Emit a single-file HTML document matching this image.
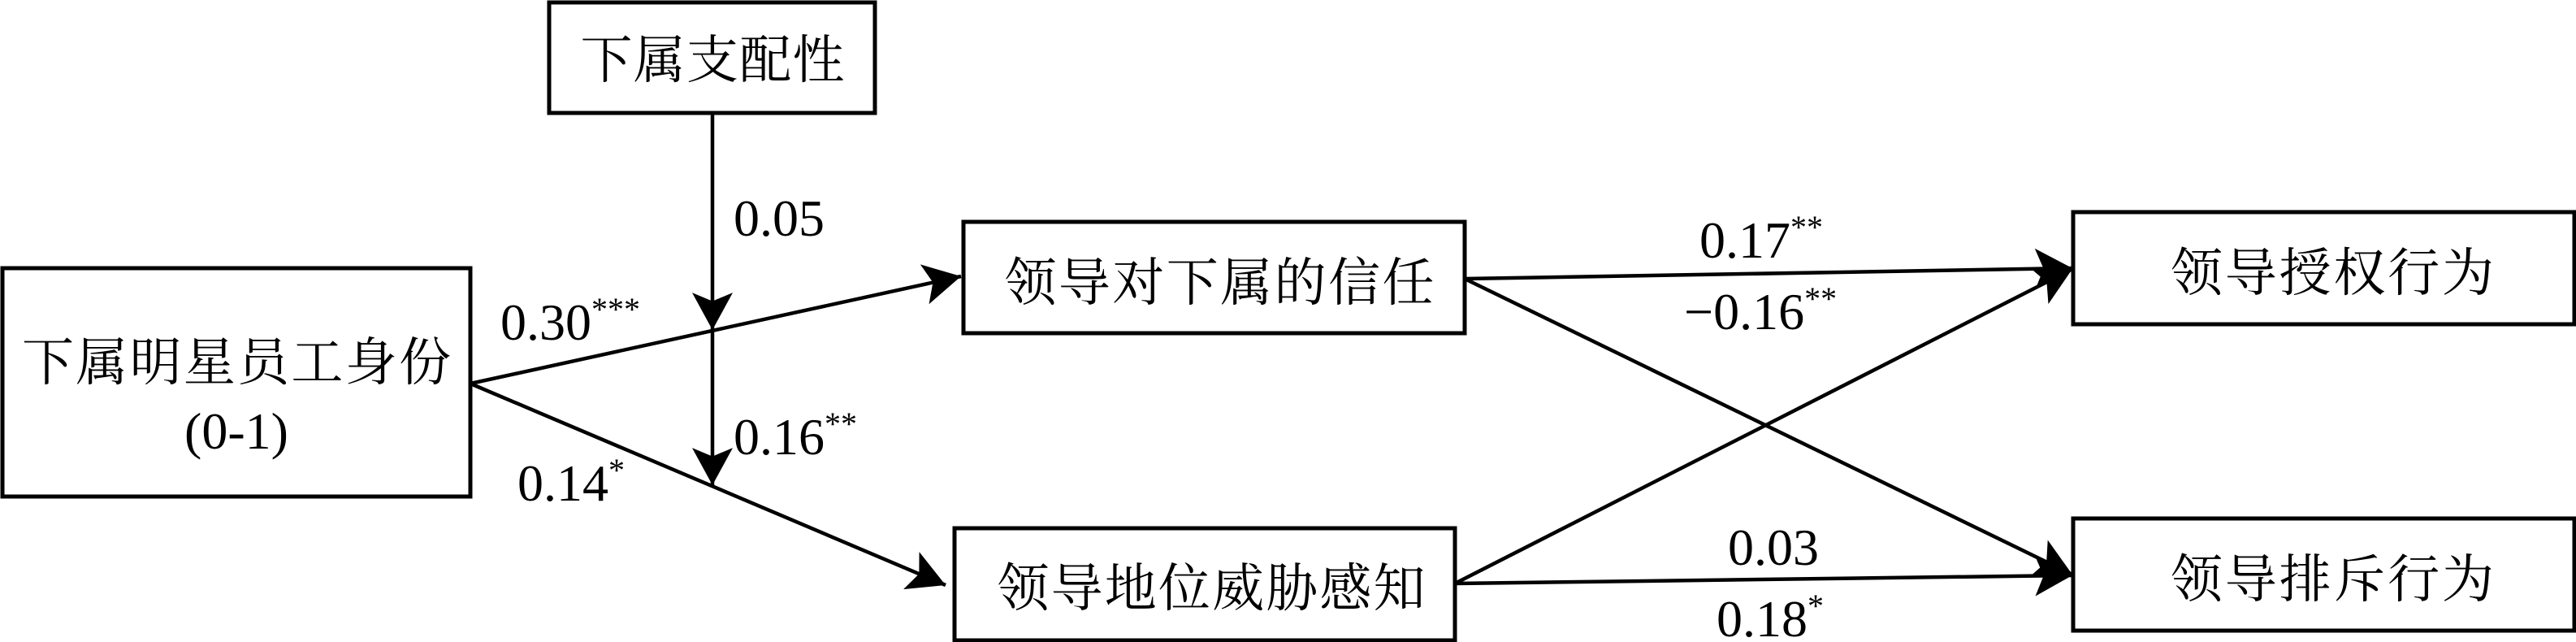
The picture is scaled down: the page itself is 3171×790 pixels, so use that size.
<!DOCTYPE html>
<html><head><meta charset="utf-8"><style>
html,body{margin:0;padding:0;background:#fff;}
svg{display:block;}
.c{font-family:"Liberation Serif","Noto Serif CJK SC",serif;font-size:64px;fill:#000;}
.n{font-family:"Liberation Serif",serif;font-size:64px;fill:#000;}
.s{font-size:40px;}
</style></head><body>
<svg width="3171" height="790" viewBox="0 0 3171 790" xmlns="http://www.w3.org/2000/svg">
<defs>
<marker id="a" markerUnits="userSpaceOnUse" markerWidth="50" markerHeight="50" viewBox="0 0 44 48" refX="44" refY="24" orient="auto">
<path d="M0,0 L44,24 L0,48 L10,24 Z" fill="#000"/>
</marker>
</defs>
<g fill="none" stroke="#000" stroke-width="5">
<rect x="676" y="3" width="401" height="136"/>
<rect x="3" y="330" width="576" height="281"/>
<rect x="1186" y="273" width="617" height="137"/>
<rect x="1175" y="650" width="616" height="138"/>
<rect x="2552" y="261" width="617" height="138"/>
<rect x="2552" y="638" width="617" height="138"/>
</g>
<g stroke="#000" stroke-width="4.5" fill="none">
<line x1="579" y1="472" x2="1183" y2="340" marker-end="url(#a)"/>
<line x1="579" y1="472" x2="1164" y2="720" marker-end="url(#a)"/>
<line x1="877" y1="139" x2="877" y2="406" marker-end="url(#a)"/>
<line x1="877" y1="406" x2="877" y2="597" marker-end="url(#a)"/>
<line x1="1803" y1="343" x2="2551" y2="330" marker-end="url(#a)"/>
<line x1="1803" y1="343" x2="2551" y2="707" marker-end="url(#a)"/>
<line x1="1791" y1="718" x2="2551" y2="331" marker-end="url(#a)"/>
<line x1="1791" y1="718" x2="2551" y2="708" marker-end="url(#a)"/>
</g>
<text class="c" x="877" y="96" text-anchor="middle" textLength="325">下属支配性</text>
<text class="c" x="291" y="468" text-anchor="middle" textLength="528">下属明星员工身份</text>
<text class="n" x="291" y="552" text-anchor="middle">(0-1)</text>
<text class="c" x="1501" y="370" text-anchor="middle" textLength="529">领导对下属的信任</text>
<text class="c" x="1491" y="746" text-anchor="middle" textLength="527">领导地位威胁感知</text>
<text class="c" x="2871" y="358" text-anchor="middle" textLength="398">领导授权行为</text>
<text class="c" x="2871" y="735" text-anchor="middle" textLength="398">领导排斥行为</text>
<text class="n" x="903" y="290">0.05</text>
<text class="n" x="616" y="418">0.30<tspan class="s" dy="-24">***</tspan></text>
<text class="n" x="903" y="559">0.16<tspan class="s" dy="-24">**</tspan></text>
<text class="n" x="637" y="616">0.14<tspan class="s" dy="-24">*</tspan></text>
<text class="n" x="2092" y="317">0.17<tspan class="s" dy="-24">**</tspan></text>
<text class="n" x="2073" y="405">−0.16<tspan class="s" dy="-24">**</tspan></text>
<text class="n" x="2127" y="695">0.03</text>
<text class="n" x="2113" y="783">0.18<tspan class="s" dy="-24">*</tspan></text>
</svg>
</body></html>
